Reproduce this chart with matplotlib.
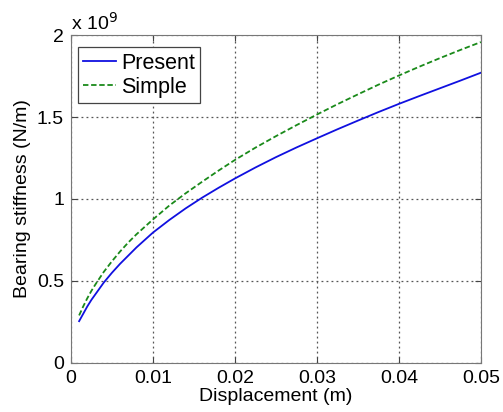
import numpy as np
import matplotlib
matplotlib.use('Agg')
import matplotlib.pyplot as plt

### data (stiffness in units of 1e9 N/m)
displacement = [0.001, 0.0015, 0.002, 0.0025, 0.003, 0.004, 0.005, 0.006, 0.007, 0.008,
                0.009, 0.01, 0.012, 0.014, 0.016, 0.018, 0.02, 0.0225, 0.025, 0.0275,
                0.03, 0.0325, 0.035, 0.0375, 0.04, 0.0425, 0.045, 0.0475, 0.05]
present = [0.255, 0.30, 0.345, 0.385, 0.42, 0.49, 0.55, 0.605, 0.655, 0.705,
           0.75, 0.795, 0.872, 0.943, 1.008, 1.068, 1.125, 1.192, 1.255, 1.314,
           1.37, 1.425, 1.478, 1.53, 1.58, 1.628, 1.675, 1.722, 1.77]
simple = [0.29, 0.345, 0.395, 0.44, 0.48, 0.555, 0.62, 0.68, 0.735, 0.785,
          0.83, 0.875, 0.96, 1.035, 1.105, 1.173, 1.238, 1.313, 1.383, 1.45,
          1.515, 1.578, 1.638, 1.697, 1.753, 1.807, 1.859, 1.909, 1.957]

xticks = [0, 0.01, 0.02, 0.03, 0.04, 0.05]
xticklabels = ['0', '0.01', '0.02', '0.03', '0.04', '0.05']
yticks = [0, 0.5, 1, 1.5, 2]
yticklabels = ['0', '0.5', '1', '1.5', '2']

plt.rcParams['font.family'] = ['Liberation Sans', 'DejaVu Sans']

### figure
fig = plt.figure(figsize=(5.03, 4.12), dpi=100)
ax = fig.add_axes([0.141, 0.119, 0.815, 0.796])

ax.plot(displacement, present, color='#1010e0', lw=1.3, label='Present')
ax.plot(displacement, simple, color='#1a8a1a', lw=1.3, ls=(0, (3, 1.5)), label='Simple')

ax.set_xlim(0, 0.05)
ax.set_ylim(0, 2)
ax.set_xticks(xticks)
ax.set_xticklabels(xticklabels)
ax.set_yticks(yticks)
ax.set_yticklabels(yticklabels)
ax.tick_params(direction='in', top=True, right=True, length=4, labelsize=14,
               color='#444444', pad=5)
ax.grid(True, ls=(0, (1.5, 2.5)), color='#555555', lw=0.9)
for s in ax.spines.values():
    s.set_color('#777777')

ax.set_xlabel('Displacement (m)', fontsize=14, labelpad=1)
ax.set_ylabel('Bearing stiffness (N/m)', fontsize=14, labelpad=4)
ax.text(0.0, 1.005, r'x 10$^9$', transform=ax.transAxes, fontsize=14,
        ha='left', va='bottom')

leg = ax.legend(loc='upper left', bbox_to_anchor=(0.017, 0.963), fontsize=15.5,
                fancybox=False, framealpha=1, edgecolor='#444444', borderpad=0.25,
                labelspacing=0.15, handlelength=1.5, handletextpad=0.25,
                borderaxespad=0)
leg.get_frame().set_linewidth(0.9)

plt.savefig('out.png', dpi=100)
